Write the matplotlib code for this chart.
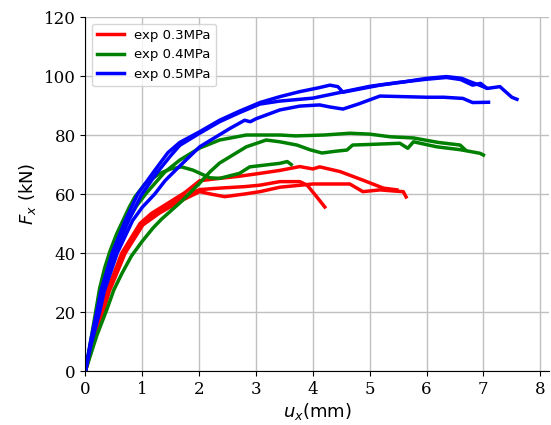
import matplotlib
matplotlib.use('Agg')
import matplotlib.pyplot as plt

# test curves: displacement u_x (mm) and force F_x (kN)
red_a_x = [0, 0.1, 0.3, 0.4, 0.67, 0.98, 1.16, 1.46, 1.66, 2.01, 2.36, 2.8, 3.07, 3.42, 3.77, 3.9, 4.05, 4.21]
red_a_y = [0, 7, 20, 27, 40, 50, 52.5, 56, 58.5, 61.5, 62, 62.5, 63, 64.2, 64.2, 63, 59.5, 55.6]
red_b_x = [0, 0.1, 0.31, 0.42, 0.7, 1.01, 1.3, 1.66, 2.01, 2.2, 2.45, 2.8, 3.07, 3.42, 4.0, 4.65, 4.88, 5.18, 5.44, 5.59, 5.64]
red_b_y = [0, 7, 20, 27, 40, 49.5, 53.5, 57.5, 60.8, 60, 59.1, 60, 60.8, 62.3, 63.4, 63.4, 60.8, 61.4, 61, 60.8, 59]
red_c_x = [0, 0.1, 0.28, 0.38, 0.64, 0.96, 1.16, 1.46, 1.75, 2.01, 2.36, 2.7, 3.07, 3.42, 3.77, 4.0, 4.12, 4.48, 4.88, 5.24, 5.48]
red_c_y = [0, 7.5, 20, 27, 40, 50, 53.4, 57, 60.5, 64.5, 65.3, 66, 67, 68, 69.3, 68.5, 69.2, 67.6, 64.7, 62, 61.4]

green_a_x = [0, 0.1, 0.18, 0.25, 0.34, 0.43, 0.55, 0.66, 0.77, 0.87, 1.05, 1.31, 1.5, 1.69, 1.89, 2.19, 2.36, 2.71, 2.89, 3.42, 3.55, 3.62]
green_a_y = [0, 11, 20, 28, 35, 40.5, 46.5, 51, 55.5, 59, 63.5, 67, 68.5, 69.2, 68.1, 65.5, 65.3, 67, 69.2, 70.4, 71, 70]
green_b_x = [0, 0.1, 0.21, 0.3, 0.5, 0.7, 0.9, 1.08, 1.4, 1.66, 2.0, 2.36, 2.83, 3.42, 3.7, 4.2, 4.65, 5.0, 5.36, 5.77, 6.2, 6.59, 6.68]
green_b_y = [0, 10, 20, 28, 40, 49.5, 56, 60.5, 67.5, 71.5, 75.5, 78.3, 80, 80, 79.7, 80, 80.6, 80.3, 79.4, 79, 77.5, 76.6, 75]
green_c_x = [0, 0.1, 0.2, 0.38, 0.5, 0.64, 0.81, 1.0, 1.19, 1.34, 1.69, 2.0, 2.19, 2.36, 2.54, 2.83, 3.18, 3.42, 3.72, 3.95, 4.16, 4.4, 4.6, 4.7, 5.0, 5.53, 5.67, 5.77, 6.18, 6.6, 6.94, 7.0]
green_c_y = [0, 6, 12, 21, 27.5, 33, 39, 44, 48.5, 51.5, 57.5, 63.5, 67.5, 70.5, 72.6, 76, 78.3, 77.7, 76.6, 75, 73.9, 74.5, 74.9, 76.6, 76.8, 77.2, 75.5, 77.7, 76, 75, 73.8, 73.2]

blue_a_x = [0, 0.1, 0.2, 0.27, 0.47, 0.7, 0.92, 1.2, 1.45, 1.66, 2.0, 2.36, 2.7, 3.07, 3.42, 3.77, 4.1, 4.3, 4.44, 4.53, 4.8, 5.18, 5.6, 6.0, 6.35, 6.62, 6.76, 6.93, 7.07, 7.29, 7.5, 7.59]
blue_a_y = [0, 11, 20, 27, 40, 51, 60, 67.5, 74, 77.5, 81, 85, 88, 91, 93, 94.7, 96, 96.9, 96.4, 94.5, 95.5, 96.9, 98, 99.2, 99.8, 99.2, 98.1, 96.9, 95.8, 96.4, 92.8, 92.1]
blue_b_x = [0, 0.1, 0.22, 0.3, 0.52, 0.76, 0.98, 1.25, 1.5, 1.66, 2.0, 2.36, 2.7, 3.07, 3.42, 4.0, 4.5, 5.0, 5.5, 6.0, 6.35, 6.6, 6.81, 6.95, 7.05]
blue_b_y = [0, 10, 20, 27.5, 40, 51, 59.5, 67, 73, 76.5, 80.5, 84.5, 87.5, 90.5, 91.5, 92.5, 94.5, 96.5, 97.8, 98.9, 99.5, 98.8, 96.9, 97.5, 96]
blue_c_x = [0, 0.1, 0.25, 0.33, 0.56, 0.83, 1.0, 1.22, 1.4, 1.66, 2.01, 2.54, 2.8, 2.9, 3.0, 3.42, 3.77, 4.12, 4.3, 4.53, 4.8, 5.18, 5.6, 6.0, 6.3, 6.64, 6.81, 7.09]
blue_c_y = [0, 9, 20, 27, 40, 51, 55.5, 60, 64.5, 69.5, 76, 82.2, 85, 84.5, 85.5, 88.5, 89.8, 90.2, 89.5, 88.8, 90.5, 93.2, 93, 92.8, 92.8, 92.4, 91, 91.1]

fig = plt.figure(figsize=(5.51, 4.25), dpi=100)
ax = fig.add_axes([0.155, 0.127, 0.841, 0.833])

lw = 2.5
ax.plot(red_a_x, red_a_y, color='red', lw=lw, label='exp 0.3MPa')
ax.plot(red_b_x, red_b_y, color='red', lw=lw)
ax.plot(red_c_x, red_c_y, color='red', lw=lw)
ax.plot(green_a_x, green_a_y, color='green', lw=lw, label='exp 0.4MPa')
ax.plot(green_b_x, green_b_y, color='green', lw=lw)
ax.plot(green_c_x, green_c_y, color='green', lw=lw)
ax.plot(blue_a_x, blue_a_y, color='blue', lw=lw, label='exp 0.5MPa')
ax.plot(blue_b_x, blue_b_y, color='blue', lw=lw)
ax.plot(blue_c_x, blue_c_y, color='blue', lw=lw)

ax.set_xlim(0, 8.15)
ax.set_ylim(0, 120)
ax.set_xticks(range(0, 9))
ax.set_yticks(range(0, 121, 20))
ax.grid(True, color='#c0c0c0', lw=1)
ax.set_axisbelow(True)
ax.spines['top'].set_visible(False)
ax.spines['right'].set_visible(False)
for lab in ax.get_xticklabels() + ax.get_yticklabels():
    lab.set_family('DejaVu Serif')
    lab.set_fontsize(12)

ax.set_xlabel(r'$u_x$(mm)', fontsize=13, labelpad=2)
ax.set_ylabel(r'$F_x$ (kN)', fontsize=13)
ax.legend(loc='upper left', fontsize=9.5)

fig.savefig('out.png', dpi=100)
